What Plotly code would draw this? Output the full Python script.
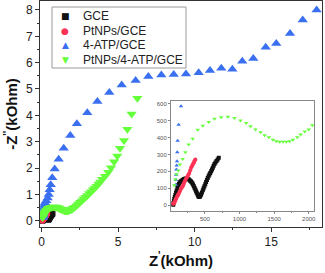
import plotly.graph_objects as go

# ---- data (kOhm) ----
gce_x = [0.043,0.047,0.052,0.058,0.065,0.073,0.082,0.092,0.103,0.113,0.125,0.138,0.152,0.167,0.183,0.200,0.218,0.236,0.251,0.266,0.280,0.293,0.305,0.317,0.328,0.340,0.351,0.362,0.372,0.382,0.392,0.402,0.411,0.420,0.428,0.436,0.445,0.457,0.470,0.481,0.493,0.505,0.517,0.529,0.541,0.553,0.565,0.577,0.590,0.602,0.614,0.626,0.638,0.653,0.668,0.684,0.700]
gce_y = [0.002,0.012,0.024,0.036,0.048,0.060,0.073,0.086,0.103,0.118,0.127,0.135,0.141,0.146,0.151,0.155,0.157,0.157,0.156,0.153,0.148,0.143,0.137,0.130,0.122,0.112,0.102,0.092,0.082,0.073,0.064,0.055,0.049,0.048,0.052,0.057,0.063,0.075,0.088,0.100,0.112,0.124,0.137,0.149,0.161,0.171,0.182,0.191,0.201,0.211,0.222,0.233,0.244,0.253,0.262,0.271,0.280]

pt_x = [0.043,0.050,0.058,0.065,0.072,0.080,0.090,0.100,0.110,0.116,0.128,0.140,0.152,0.165,0.179,0.191,0.203,0.215,0.227,0.239,0.251,0.263,0.275,0.288,0.300,0.312,0.324,0.334,0.343,0.352,0.362]
pt_y = [0.008,0.011,0.014,0.020,0.027,0.035,0.043,0.052,0.060,0.063,0.073,0.083,0.095,0.103,0.112,0.124,0.136,0.146,0.156,0.164,0.172,0.182,0.191,0.206,0.221,0.230,0.240,0.248,0.256,0.263,0.270]

atp_x = [0.080,0.082,0.085,0.088,0.092,0.097,0.101,0.106,0.121,0.155,0.22,0.30,0.39,0.46,0.52,0.59,0.69,0.85,1.11,1.44,1.87,2.30,2.98,3.64,4.42,5.23,6.14,6.97,7.82,8.63,9.43,10.26,11.0,11.74,12.46,13.11,13.83,14.64,15.33,16.23,17.06,17.97]
atp_y = [0.120,0.150,0.180,0.211,0.235,0.260,0.313,0.382,0.477,0.586,0.68,0.76,0.86,0.99,1.17,1.36,1.63,1.96,2.33,2.75,3.23,3.68,4.10,4.52,4.87,5.15,5.32,5.47,5.53,5.55,5.57,5.62,5.70,5.79,5.75,6.05,6.16,6.58,6.73,7.11,7.62,8.00]

ptatp_x = [0.058,0.072,0.090,0.116,0.140,0.179,0.218,0.266,0.324,0.396,0.469,0.556,0.638,0.735,0.831,0.927,1.014,1.096,1.159,1.231,1.304,1.362,1.425,1.483,1.531,1.579,1.627,1.675,1.724,1.772,1.835,1.883,1.941,1.999,2.052,2.15,2.27,2.39,2.51,2.63,2.75,2.87,2.99,3.11,3.23,3.35,3.47,3.59,3.71,3.83,3.95,4.14,4.35,4.53,4.73,4.94,5.12,5.38,5.60,5.88,6.25]
ptatp_y = [0.118,0.152,0.183,0.205,0.240,0.274,0.313,0.359,0.394,0.447,0.471,0.493,0.512,0.521,0.523,0.517,0.501,0.487,0.467,0.448,0.432,0.414,0.402,0.388,0.379,0.375,0.375,0.375,0.379,0.388,0.402,0.418,0.437,0.448,0.473,0.51,0.57,0.63,0.70,0.76,0.83,0.89,0.96,1.03,1.10,1.17,1.24,1.31,1.39,1.47,1.57,1.69,1.84,2.01,2.24,2.46,2.75,3.04,3.47,4.05,4.65]

names = ["GCE", "PtNPs/GCE", "4-ATP/GCE", "PtNPs/4-ATP/GCE"]
colors = ["#111111", "#ff3355", "#3a6ff0", "#66ff3c"]
symbols = ["square", "circle", "triangle-up", "triangle-down"]
glyphs = ["\u25A0", "\u25CF", "\u25B2", "\u25BC"]
main_sizes = [6, 6, 9, 9]
series = [(gce_x, gce_y), (pt_x, pt_y), (atp_x, atp_y), (ptatp_x, ptatp_y)]

FONT = "Arial, Liberation Sans, sans-serif"

fig = go.Figure()
for (xs, ys), n, c, s, sz in zip(series, names, colors, symbols, main_sizes):
    fig.add_trace(go.Scatter(x=xs, y=ys, mode="markers", name=n, showlegend=False,
                             marker=dict(color=c, symbol=s, size=sz, line=dict(width=0)),
                             xaxis="x", yaxis="y"))
# inset (Ohm)
for (xs, ys), n, c, s in zip(series, names, colors, symbols):
    fig.add_trace(go.Scatter(x=[v * 1000 for v in xs], y=[v * 1000 for v in ys], mode="markers",
                             name=n, showlegend=False,
                             marker=dict(color=c, symbol=s, size=4, line=dict(width=0)),
                             xaxis="x2", yaxis="y2"))

# manual legend (box + glyph + label), positions in paper coords of main plot area
W, H, L, T = 282.0, 226.0, 40.0, 1.0
def px(xp): return (xp - L) / W
def py(yp): return (T + H - yp) / H

fig.add_shape(type="rect", xref="paper", yref="paper",
              x0=px(52), x1=px(186), y0=py(68), y1=py(7),
              line=dict(color="#999", width=1), fillcolor="white", layer="above")
rows = [16, 30.5, 45, 59.5]
for g, n, c, yr in zip(glyphs, names, colors, rows):
    fig.add_annotation(xref="paper", yref="paper", x=px(65), y=py(yr), text=g,
                       showarrow=False, xanchor="center", yanchor="middle",
                       font=dict(family="DejaVu Sans", size=9, color=c))
    fig.add_annotation(xref="paper", yref="paper", x=px(81), y=py(yr), text=n,
                       showarrow=False, xanchor="left", yanchor="middle",
                       font=dict(family=FONT, size=12, color="#222"))

axfont = dict(family=FONT, size=12, color="#222")
fig.update_layout(
    width=325, height=273,
    margin=dict(l=40, r=3, t=1, b=46, autoexpand=False),
    paper_bgcolor="white", plot_bgcolor="white",
    font=axfont,
    showlegend=False,
    xaxis=dict(domain=[0, 1], range=[-0.11, 18.32], showgrid=False, zeroline=False,
               showline=True, linecolor="#333", linewidth=1, mirror=True,
               ticks="outside", ticklen=4, tickcolor="#333", dtick=5, tick0=0,
               minor=dict(ticks="outside", ticklen=2, dtick=2.5, tickcolor="#333"),
               tickfont=axfont,
               title=dict(text="Z<sup>'</sup>(kOhm)", font=dict(family=FONT, size=15, color="#111", weight="bold"), standoff=6)),
    yaxis=dict(domain=[0, 1], range=[-0.24, 8.34], showgrid=False, zeroline=False,
               showline=True, linecolor="#333", linewidth=1, mirror=True,
               ticks="outside", ticklen=4, tickcolor="#333", dtick=1, tick0=0,
               minor=dict(ticks="outside", ticklen=2, dtick=0.5, tickcolor="#333"),
               tickfont=axfont,
               title=dict(text="-Z<sup>''</sup>(kOhm)", font=dict(family=FONT, size=15, color="#111", weight="bold"), standoff=4)),
    xaxis2=dict(domain=[0.4645, 0.9727], range=[10, 2080], anchor="y2", showgrid=False, zeroline=False,
                showline=True, linecolor="#888", linewidth=1, mirror=True,
                ticks="outside", ticklen=2, tickcolor="#888", dtick=500, tick0=0,
                minor=dict(ticks="outside", ticklen=1, dtick=250, tickcolor="#888"),
                tickfont=dict(family=FONT, size=6, color="#555")),
    yaxis2=dict(domain=[0.0708, 0.5575], range=[-35, 617], anchor="x2", showgrid=False, zeroline=False,
                showline=True, linecolor="#888", linewidth=1, mirror=True,
                ticks="outside", ticklen=2, tickcolor="#888", dtick=100, tick0=0,
                tickfont=dict(family=FONT, size=6, color="#555")),
)

fig.write_html("out.html", config={"displayModeBar": False},
               post_script="document.body.style.margin='0';")
